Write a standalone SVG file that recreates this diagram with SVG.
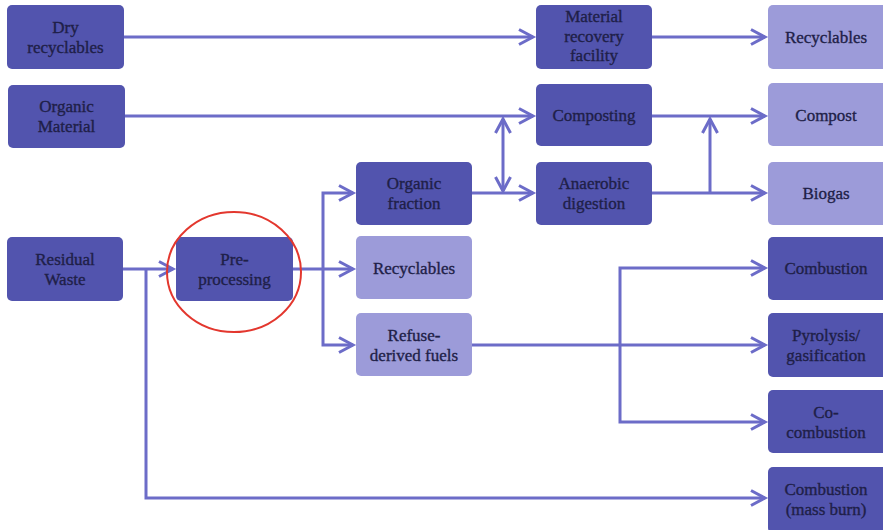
<svg xmlns="http://www.w3.org/2000/svg" width="883" height="530" viewBox="0 0 883 530">
  <style>
    .dark { fill: #5254ae; }
    .light { fill: #9c9bd9; }
    .lbl { font-family: "Liberation Serif", "Times New Roman", serif; font-size: 17px; fill: #1f1f48; stroke: #1f1f48; stroke-width: 0.35; text-anchor: middle; }
    .wire { fill: none; stroke: #6c6cc8; stroke-width: 3; }
    .hl { fill: none; stroke: #e3372e; stroke-width: 2; }
  </style>
  <defs>
    <marker id="arrow" viewBox="0 0 16 16" markerWidth="16" markerHeight="16" refX="14" refY="8" orient="auto-start-reverse" markerUnits="userSpaceOnUse" overflow="visible">
      <path d="M0,0.5 L14,8 L0,15.5" fill="none" stroke="#6c6cc8" stroke-width="3" stroke-linejoin="miter"/>
    </marker>
  </defs>
  <rect width="883" height="530" fill="#ffffff"/>

  <!-- connectors -->
  <g id="connectors">
    <path class="wire" d="M124,37 H533" marker-end="url(#arrow)"/>
    <path class="wire" d="M125,116 H533" marker-end="url(#arrow)"/>
    <path class="wire" d="M503,119 V191" marker-start="url(#arrow)" marker-end="url(#arrow)"/>
    <path class="wire" d="M472,193 H533" marker-end="url(#arrow)"/>
    <path class="wire" d="M652,37 H765" marker-end="url(#arrow)"/>
    <path class="wire" d="M652,116 H765" marker-end="url(#arrow)"/>
    <path class="wire" d="M652,193 H765" marker-end="url(#arrow)"/>
    <path class="wire" d="M710,193 V119" marker-end="url(#arrow)"/>
    <path class="wire" d="M123,269 H173" marker-end="url(#arrow)"/>
    <path class="wire" d="M146,269 V498 H765" marker-end="url(#arrow)"/>
    <path class="wire" d="M293,269 H353" marker-end="url(#arrow)"/>
    <path class="wire" d="M323,269 V193 H353" marker-end="url(#arrow)"/>
    <path class="wire" d="M323,269 V345 H353" marker-end="url(#arrow)"/>
    <path class="wire" d="M472,345 H765" marker-end="url(#arrow)"/>
    <path class="wire" d="M620,345 V268 H765" marker-end="url(#arrow)"/>
    <path class="wire" d="M620,345 V422 H765" marker-end="url(#arrow)"/>
  </g>

  <!-- sources -->
  <g id="dry-recyclables">
    <rect class="dark" x="7" y="5" width="117" height="64" rx="5"/>
    <text class="lbl" x="65.5" y="33">Dry</text>
    <text class="lbl" x="65.5" y="53">recyclables</text>
  </g>
  <g id="organic-material">
    <rect class="dark" x="8" y="85" width="117" height="63" rx="5"/>
    <text class="lbl" x="66.5" y="112">Organic</text>
    <text class="lbl" x="66.5" y="132">Material</text>
  </g>
  <g id="residual-waste">
    <rect class="dark" x="7" y="237" width="116" height="64" rx="5"/>
    <text class="lbl" x="65" y="265">Residual</text>
    <text class="lbl" x="65" y="285">Waste</text>
  </g>
  <g id="pre-processing">
    <rect class="dark" x="176" y="237" width="117" height="64" rx="5"/>
    <text class="lbl" x="234.5" y="265">Pre-</text>
    <text class="lbl" x="234.5" y="285">processing</text>
    <ellipse class="hl" cx="234" cy="272" rx="67" ry="60"/>
  </g>

  <!-- pre-processing outputs -->
  <g id="organic-fraction">
    <rect class="dark" x="356" y="162" width="116" height="63" rx="5"/>
    <text class="lbl" x="414" y="189">Organic</text>
    <text class="lbl" x="414" y="209">fraction</text>
  </g>
  <g id="recyclables-sorted">
    <rect class="light" x="356" y="236" width="116" height="63" rx="5"/>
    <text class="lbl" x="414" y="274">Recyclables</text>
  </g>
  <g id="refuse-derived-fuels">
    <rect class="light" x="356" y="313" width="116" height="63" rx="5"/>
    <text class="lbl" x="414" y="341">Refuse-</text>
    <text class="lbl" x="414" y="361">derived fuels</text>
  </g>

  <!-- treatment -->
  <g id="material-recovery-facility">
    <rect class="dark" x="536" y="5" width="116" height="64" rx="5"/>
    <text class="lbl" x="594" y="22">Material</text>
    <text class="lbl" x="594" y="42">recovery</text>
    <text class="lbl" x="594" y="61">facility</text>
  </g>
  <g id="composting">
    <rect class="dark" x="536" y="84" width="116" height="62" rx="5"/>
    <text class="lbl" x="594" y="121">Composting</text>
  </g>
  <g id="anaerobic-digestion">
    <rect class="dark" x="536" y="162" width="116" height="63" rx="5"/>
    <text class="lbl" x="594" y="189">Anaerobic</text>
    <text class="lbl" x="594" y="209">digestion</text>
  </g>

  <!-- products -->
  <g id="recyclables">
    <rect class="light" x="768" y="5" width="120" height="64" rx="5"/>
    <text class="lbl" x="826" y="43">Recyclables</text>
  </g>
  <g id="compost">
    <rect class="light" x="768" y="83" width="120" height="63" rx="5"/>
    <text class="lbl" x="826" y="121">Compost</text>
  </g>
  <g id="biogas">
    <rect class="light" x="768" y="162" width="120" height="63" rx="5"/>
    <text class="lbl" x="826" y="199">Biogas</text>
  </g>
  <g id="combustion">
    <rect class="dark" x="768" y="237" width="120" height="63" rx="5"/>
    <text class="lbl" x="826" y="274">Combustion</text>
  </g>
  <g id="pyrolysis-gasification">
    <rect class="dark" x="768" y="313" width="120" height="64" rx="5"/>
    <text class="lbl" x="826" y="341">Pyrolysis/</text>
    <text class="lbl" x="826" y="361">gasification</text>
  </g>
  <g id="co-combustion">
    <rect class="dark" x="768" y="390" width="120" height="63" rx="5"/>
    <text class="lbl" x="826" y="418">Co-</text>
    <text class="lbl" x="826" y="438">combustion</text>
  </g>
  <g id="combustion-mass-burn">
    <rect class="dark" x="768" y="467" width="120" height="66" rx="5"/>
    <text class="lbl" x="826" y="495">Combustion</text>
    <text class="lbl" x="826" y="515">(mass burn)</text>
  </g>
</svg>
